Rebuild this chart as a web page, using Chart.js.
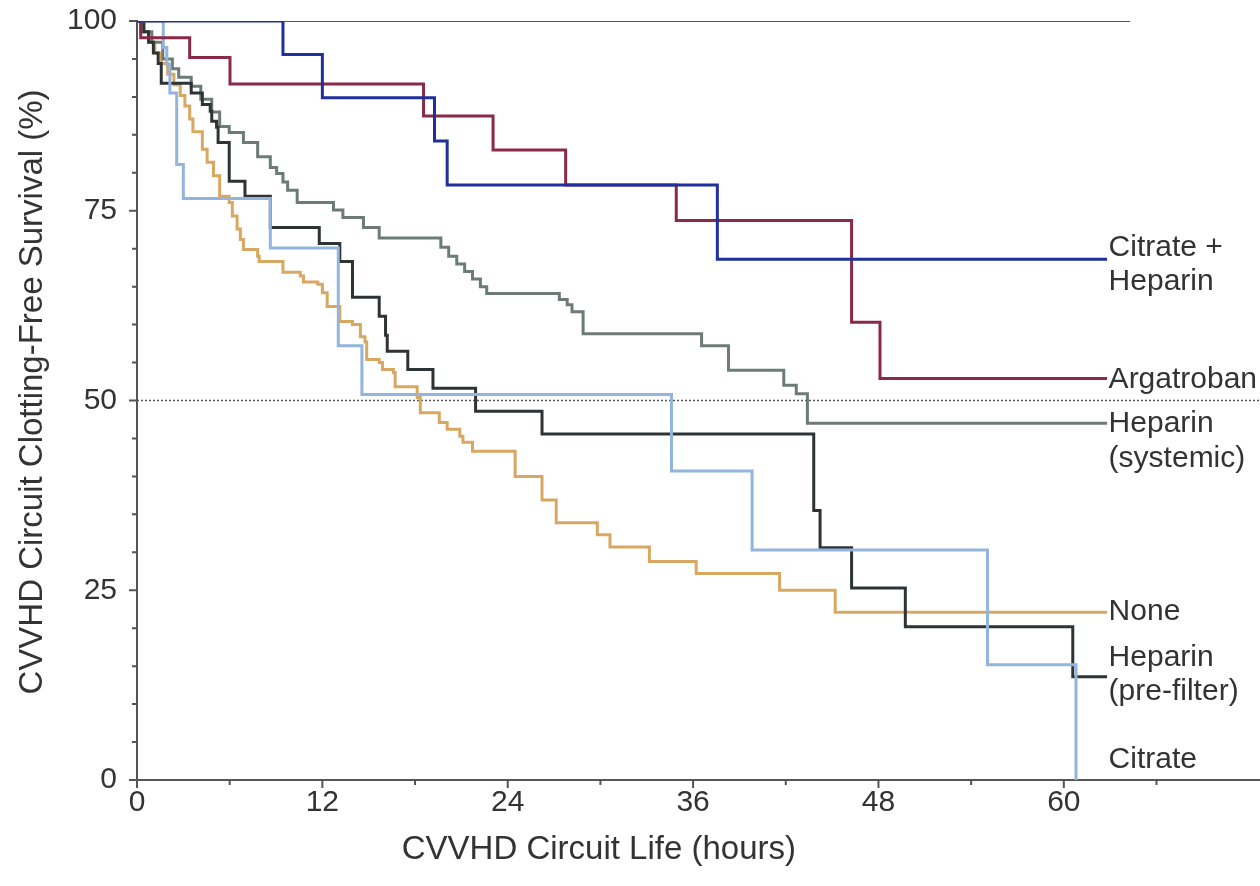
<!DOCTYPE html>
<html>
<head>
<meta charset="utf-8">
<title>CVVHD circuit clotting-free survival</title>
<script src="https://cdn.jsdelivr.net/npm/chart.js@4.4.1/dist/chart.umd.min.js"></script>
<style>
    html, body { margin: 0; padding: 0; background: #fff; overflow: hidden; }
    #wrap { width: 1260px; height: 886px; }
    #kmChart { display: block; }
</style>
</head>
<body>
<div id="wrap"><canvas id="kmChart" width="1260" height="886"></canvas></div>
<script>
// Kaplan-Meier curves: event time (hours) and survival after it (%)
var seriesNames = ['Citrate +\nHeparin', 'Argatroban', 'Heparin\n(systemic)', 'None', 'Heparin\n(pre-filter)', 'Citrate'];

var citHepHours = [0, 9.45, 12.0, 19.26, 20.08, 37.57, 62.8];
var citHepSurv = [100, 95.6, 89.9, 84.2, 78.4, 68.6, 68.6];

var argHours = [0, 0.24, 3.41, 6.02, 18.55, 23.05, 27.75, 34.91, 46.26, 48.1, 62.8];
var argSurv = [100, 97.8, 95.2, 91.7, 87.5, 83.0, 78.4, 73.7, 60.3, 52.9, 52.9];

var hepSysHours = [0, 0.34, 0.96, 1.67, 2.29, 2.7, 3.51, 4.13, 4.84, 5.35, 5.97, 6.89, 7.81, 8.63, 9.04, 9.45, 9.75, 10.37, 12.72, 13.33,
    14.66, 15.68, 19.67, 20.18, 20.7, 21.21, 21.72, 22.23, 22.64, 27.34, 27.85, 28.16, 28.88, 36.55, 38.29, 41.87, 42.68, 43.4, 62.8];
var hepSysSurv = [100, 98.6, 97.2, 95.0, 93.7, 92.6, 91.4, 89.7, 88.0, 86.1, 85.3, 84.0, 82.1, 80.7, 79.9, 78.8, 77.7, 76.1, 75.1, 74.1,
    72.8, 71.4, 70.2, 69.0, 68.0, 67.0, 66.0, 65.0, 64.1, 63.3, 62.6, 61.7, 58.8, 57.2, 54.0, 52.0, 50.9, 47.0, 47.0];

var noneHours = [0, 0.24, 0.75, 1.16, 1.57, 1.98, 2.39, 2.8, 3.1, 3.41, 3.62, 4.23, 4.54, 4.95, 5.35, 5.97, 6.17, 6.48, 6.69, 6.89,
    7.81, 7.91, 9.45, 10.57, 10.78, 11.7, 12.0, 12.31, 13.13, 13.95, 14.46, 14.76, 14.87, 15.68, 15.89, 16.6, 16.71, 18.14, 18.34, 19.57,
    20.08, 20.9, 21.1, 21.72, 24.48, 26.22, 27.14, 29.8, 30.62, 33.17, 36.2, 41.6, 45.2, 62.8];
var noneSurv = [100, 98.6, 97.2, 95.8, 94.4, 93.0, 91.6, 90.2, 88.8, 87.1, 85.4, 83.1, 81.4, 79.6, 76.9, 76.1, 74.3, 72.6, 71.2, 69.9,
    69.0, 68.3, 66.9, 66.4, 65.6, 65.3, 64.2, 62.4, 60.4, 60.0, 58.4, 57.7, 55.4, 55.0, 54.1, 53.7, 51.8, 50.4, 48.4, 47.1,
    46.2, 45.3, 44.5, 43.3, 40.0, 36.9, 33.9, 32.3, 30.7, 28.8, 27.2, 25.0, 22.1, 22.1];

var hepPreHours = [0, 0.45, 0.75, 1.06, 1.37, 1.57, 3.51, 4.23, 4.74, 4.84, 5.15, 5.25, 5.97, 6.99, 8.63, 11.8, 13.13, 13.95, 15.68, 16.09,
    16.2, 17.53, 19.16, 21.92, 26.22, 43.81, 44.22, 46.26, 49.74, 60.58, 62.8];
var hepPreSurv = [100, 98.6, 97.2, 95.8, 94.4, 91.8, 90.5, 89.0, 88.1, 86.8, 86.0, 84.0, 78.9, 76.9, 72.8, 70.7, 68.3, 63.6, 61.1, 58.6,
    56.5, 54.1, 51.6, 48.6, 45.6, 35.5, 30.6, 25.3, 20.2, 13.6, 13.6];

var citHours = [0, 1.7, 1.93, 2.13, 2.57, 3.0, 8.63, 13.03, 14.56, 34.6, 39.82, 55.06, 60.79];
var citSurv = [100, 96.5, 94.3, 90.5, 81.1, 76.6, 70.1, 57.2, 50.8, 40.7, 30.3, 15.2, 0];

// reference lines: top rule at 100 % and dotted median line at 50 %
var topRuleHours = [0, 64.3];
var medianHours = [0, 72.7];

var xMax = 72.7;

function toPoints(hours, surv) {
    return hours.map(function (h, i) { return { x: h, y: surv[i] }; });
}

function flat(hours, level) {
    return hours.map(function (h) { return { x: h, y: level }; });
}

var lineColors = ['#1f2f9c', '#8b2a48', '#6d7b76', '#d8a862', '#2e3436', '#93b4dc'];
var seriesData = [
    toPoints(citHepHours, citHepSurv),
    toPoints(argHours, argSurv),
    toPoints(hepSysHours, hepSysSurv),
    toPoints(noneHours, noneSurv),
    toPoints(hepPreHours, hepPreSurv),
    toPoints(citHours, citSurv)
];
// drawing order: lower number ends up on top
var drawOrder = [0, 1, 4, 5, 3, 2];

// where each label line sits, in px relative to the series' last value
var labelShift = [[-12, 22], [1], [0, 35], [-1], [-19, 15], [-20]];

var textColor = '#333';
var fontFamily = '"Liberation Sans", Arial, Helvetica, sans-serif';

var datasets = seriesData.map(function (pts, i) {
    return {
        label: seriesNames[i].replace('\n', ' '),
        data: pts,
        borderColor: lineColors[i],
        borderWidth: 3,
        stepped: true,
        pointRadius: 0,
        fill: false,
        order: drawOrder[i]
    };
});

datasets.push({
    label: 'top',
    data: flat(topRuleHours, 100),
    borderColor: '#5a5a5a',
    borderWidth: 2,
    pointRadius: 0,
    order: 10
});
datasets.push({
    label: 'median',
    data: flat(medianHours, 50),
    borderColor: '#555',
    borderWidth: 1.5,
    borderDash: [2, 2],
    pointRadius: 0,
    order: 11
});

// tick marks (long on labelled ticks), axis titles and end-of-line labels
var axisDecor = {
    id: 'axisDecor',
    afterDraw: function (chart) {
        var ctx = chart.ctx;
        var xs = chart.scales.x, ys = chart.scales.y;
        var area = chart.chartArea;

        ctx.save();
        ctx.strokeStyle = '#555';
        ctx.lineWidth = 2;
        ctx.beginPath();
        xs.ticks.forEach(function (t) {
            if (t.value % 6 !== 0 || t.value > 66) return;
            var px = xs.getPixelForValue(t.value);
            var len = t.value % 12 === 0 ? 8 : 5;
            ctx.moveTo(px, area.bottom);
            ctx.lineTo(px, area.bottom + len);
        });
        ys.ticks.forEach(function (t) {
            var py = ys.getPixelForValue(t.value);
            var len = t.value % 25 === 0 ? 8 : 5;
            ctx.moveTo(area.left, py);
            ctx.lineTo(area.left - len, py);
        });
        ctx.stroke();

        ctx.fillStyle = textColor;
        ctx.font = '33px ' + fontFamily;
        ctx.textAlign = 'center';
        ctx.textBaseline = 'middle';
        ctx.fillText('CVVHD Circuit Life (hours)', xs.getPixelForValue(29.9), 850);
        ctx.translate(33, 392);
        ctx.rotate(-Math.PI / 2);
        ctx.fillText('CVVHD Circuit Clotting-Free Survival (%)', 0, 0);
        ctx.setTransform(1, 0, 0, 1, 0, 0);

        ctx.font = '30px ' + fontFamily;
        ctx.textAlign = 'left';
        var lx = xs.getPixelForValue(62.9);
        seriesData.forEach(function (pts, i) {
            var endY = ys.getPixelForValue(pts[pts.length - 1].y);
            seriesNames[i].split('\n').forEach(function (line, k) {
                ctx.fillText(line, lx, endY + labelShift[i][k]);
            });
        });
        ctx.restore();
    }
};

var ctx = document.getElementById('kmChart').getContext('2d');
var kmChart = new Chart(ctx, {
    type: 'line',
    data: { datasets: datasets },
    options: {
        responsive: false,
        animation: false,
        devicePixelRatio: 1,
        layout: { padding: { top: 21, right: 0, left: 0, bottom: 0 } },
        plugins: {
            legend: { display: false },
            tooltip: { enabled: false }
        },
        scales: {
            x: {
                type: 'linear',
                min: 0,
                max: xMax,
                grid: { display: false, drawTicks: false },
                border: { display: true, color: '#555', width: 2 },
                ticks: {
                    stepSize: 6,
                    autoSkip: false,
                    maxRotation: 0,
                    padding: 5,
                    color: textColor,
                    font: { family: fontFamily, size: 30 },
                    callback: function (v) { return v % 12 === 0 && v <= 60 ? v : ''; }
                },
                afterFit: function (scale) {
                    scale.height = 106;
                    scale.paddingLeft = 0;
                    scale.paddingRight = 0;
                }
            },
            y: {
                min: 0,
                max: 100,
                grid: { display: false, drawTicks: false },
                border: { display: true, color: '#555', width: 2 },
                ticks: {
                    stepSize: 5,
                    autoSkip: false,
                    padding: 20,
                    color: textColor,
                    font: { family: fontFamily, size: 30 },
                    callback: function (v) { return v % 25 === 0 ? v : ''; }
                },
                afterFit: function (scale) {
                    scale.width = 137;
                    scale.paddingTop = 0;
                    scale.paddingBottom = 0;
                }
            }
        }
    },
    plugins: [axisDecor]
});
</script>
</body>
</html>
